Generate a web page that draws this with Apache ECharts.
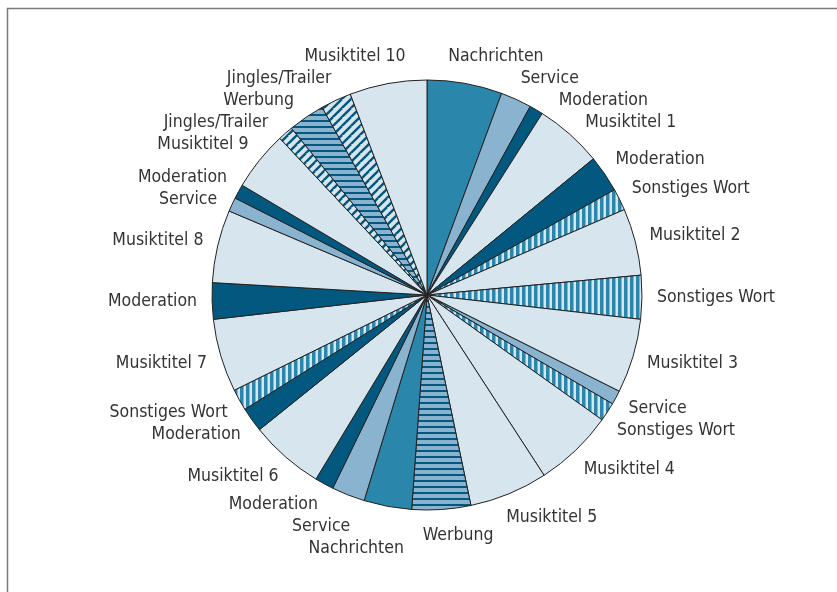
<!DOCTYPE html>
<html><head><meta charset="utf-8">
<script src="https://cdn.jsdelivr.net/npm/echarts@6/dist/echarts.min.js"></script>
<style>html,body{margin:0;padding:0;background:#fff}#c{width:837px;height:592px}</style>
</head><body><div id="c"></div>
<script>
const categories = ['Nachrichten','Service','Moderation','Musiktitel 1','Moderation','Sonstiges Wort','Musiktitel 2','Sonstiges Wort','Musiktitel 3','Service','Sonstiges Wort','Musiktitel 4','Musiktitel 5','Werbung','Nachrichten','Service','Moderation','Musiktitel 6','Moderation','Sonstiges Wort','Musiktitel 7','Moderation','Musiktitel 8','Service','Moderation','Musiktitel 9','Jingles/Trailer','Werbung','Jingles/Trailer','Musiktitel 10'];
const values = [20.3,8.4,3.7,18.3,10.0,5.9,18.1,11.8,20.1,3.8,5.1,21.5,21.2,15.9,12.9,9.0,5.1,20.1,6.7,5.8,19.8,9.8,19.7,3.8,3.9,16.1,4.1,9.9,8.3,20.9];

function pat(w, h, draw) {
  const c = document.createElement('canvas'); c.width = w; c.height = h;
  const g = c.getContext('2d'); draw(g, w, h);
  return { image: c, repeat: 'repeat' };
}
const PALE = '#d7e5ee', LIGHT = '#89b3cf', MID = '#2a86ab', DARK = '#03587f';
const vStripes = pat(6, 6, (g) => { g.fillStyle = PALE; g.fillRect(0,0,6,6); g.fillStyle = MID; g.fillRect(0,0,3.5,6); });
const hStripes = pat(6, 6, (g) => { g.fillStyle = LIGHT; g.fillRect(0,0,6,6); g.fillStyle = DARK; g.fillRect(0,0,6,2); });
const dStripes = pat(9, 9, (g) => {
  g.fillStyle = PALE; g.fillRect(0,0,9,9);
  g.strokeStyle = '#b5cfdf'; g.lineWidth = 0.8;
  for (const o of [-9, 0, 9]) { g.beginPath(); g.moveTo(o - 4.5, 13.5); g.lineTo(o + 13.5, -4.5); g.stroke(); }
  g.strokeStyle = DARK; g.lineWidth = 2.4;
  for (const o of [-9, 0, 9]) { g.beginPath(); g.moveTo(o - 9, 18); g.lineTo(o + 9, 0); g.stroke(); }
});
function styleFor(name) {
  if (name.startsWith('Musiktitel')) return PALE;
  if (name === 'Nachrichten') return MID;
  if (name === 'Service') return LIGHT;
  if (name === 'Moderation') return DARK;
  if (name === 'Sonstiges Wort') return vStripes;
  if (name === 'Werbung') return hStripes;
  if (name === 'Jingles/Trailer') return dStripes;
  return PALE;
}

// Label placement: boxes hug the pie outside the mid-angle, then spread apart.
const CX = 427, CY = 295, RAD = 215, GAP = 15, RMIN = 226, LH = 22;
const FONT = '17.5px "DejaVu Sans Condensed"';
const mctx = document.createElement('canvas').getContext('2d');
mctx.font = FONT;
const total = values.reduce((a, b) => a + b, 0);
let acc = 0;
const lab = values.map((v, i) => {
  const a = (acc + v / 2) / total * 2 * Math.PI; acc += v;
  const s = Math.sin(a), c = Math.cos(a);
  const R = RAD + GAP;
  const px = CX + R * s, py = CY - R * c;
  const w = mctx.measureText(categories[i]).width;
  const f = Math.sign(s) * Math.pow(Math.abs(s), 0.3);
  return { x: px + f * w / 2, y: py - c * LH / 2, w: w, y0: py - c * LH / 2, s: s };
});
for (let it = 0; it < 400; it++) {
  for (let i = 0; i < lab.length; i++) for (let j = i + 1; j < lab.length; j++) {
    const A = lab[i], B = lab[j];
    if (Math.abs(A.x - B.x) >= (A.w + B.w) / 2 + 3) continue;
    const dy = B.y - A.y;
    if (Math.abs(dy) >= LH) continue;
    const dir = dy !== 0 ? Math.sign(dy) : (B.y0 >= A.y0 ? 1 : -1);
    const push = (LH - Math.abs(dy)) * 0.5;
    // the lower label gives way more than the upper one
    if (dir > 0) { A.y -= push * 0.2; B.y += push * 0.8; } else { A.y += push * 0.8; B.y -= push * 0.2; }
  }
}
// keep every box clear of the pie rim
lab.forEach((L) => {
  for (let k = 0; k < 200; k++) {
    const nx = Math.max(L.x - L.w / 2, Math.min(CX, L.x + L.w / 2));
    const ny = Math.max(L.y - LH / 2, Math.min(CY, L.y + LH / 2));
    if (Math.hypot(nx - CX, ny - CY) >= RMIN) break;
    L.x += L.s >= 0 ? 0.5 : -0.5;
  }
});

const chart = echarts.init(document.getElementById('c'), null, { renderer: 'canvas' });
chart.setOption({
  animation: false,
  backgroundColor: '#fff',
  graphic: [{ type: 'rect', shape: { x: 7.5, y: 8.5, width: 900, height: 700 }, style: { fill: 'none', stroke: '#7a7a7a', lineWidth: 1.5 }, silent: true }],
  series: [{
    type: 'pie',
    center: [CX, CY],
    radius: [0, RAD],
    startAngle: 90,
    clockwise: true,
    avoidLabelOverlap: false,
    itemStyle: { borderColor: '#222', borderWidth: 1 },
    label: { show: true, position: 'outside', color: '#333', fontFamily: 'DejaVu Sans Condensed', fontSize: 17.5 },
    labelLine: { show: false, length: 15, length2: 0 },
    labelLayout: (p) => ({ x: lab[p.dataIndex].x, y: lab[p.dataIndex].y, align: 'center', verticalAlign: 'middle' }),
    emphasis: { disabled: true },
    data: categories.map((n, i) => ({ name: n, value: values[i], itemStyle: { color: styleFor(n) } }))
  }]
});
</script></body></html>
